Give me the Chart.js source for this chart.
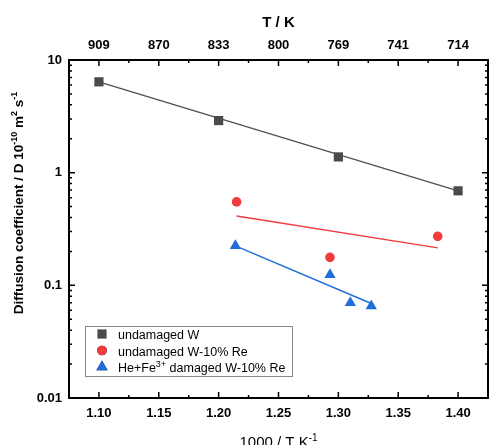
<!DOCTYPE html>
<html>
<head>
<meta charset="utf-8">
<script src="https://cdn.jsdelivr.net/npm/chart.js@4.4.0/dist/chart.umd.min.js"></script>
<style>
  html, body { margin: 0; padding: 0; background: #fff; }
</style>
</head>
<body>
<canvas id="diffChart" width="491" height="445"></canvas>
<script>
// axis ticks
const invT = [1.10, 1.15, 1.20, 1.25, 1.30, 1.35, 1.40];
const tempLabels = ['909', '870', '833', '800', '769', '741', '714'];
const yTicks = [0.01, 0.1, 1, 10];
const yTickLabels = ['0.01', '0.1', '1', '10'];

// undamaged W
const wX = [1.10, 1.20, 1.30, 1.40];
const wD = [6.4, 2.9, 1.38, 0.69];
const wFitX = [1.10, 1.40];
const wFitD = [6.4, 0.69];

// undamaged W-10% Re
const reX = [1.215, 1.293, 1.383];
const reD = [0.55, 0.177, 0.272];
const reFitX = [1.215, 1.383];
const reFitD = [0.413, 0.215];

// He+Fe3+ damaged W-10% Re
const dmgX = [1.214, 1.293, 1.310, 1.3275];
const dmgD = [0.224, 0.124, 0.070, 0.0656];
const dmgFitX = [1.214, 1.3275];
const dmgFitD = [0.224, 0.069];

const legendLabels = [
  [['undamaged W', false]],
  [['undamaged W-10% Re', false]],
  [['He+Fe', false], ['3+', true], [' damaged W-10% Re', false]]
];

const FONT = '"Liberation Sans", Arial, sans-serif';
const greyCol = '#4a4a4a';
const redCol = '#f03c3c';
const blueCol = '#1f6ed9';

const toXY = (xs, ys) => xs.map((v, i) => ({ x: v, y: ys[i] }));

// text with superscripts, parts = [[text, isSup], ...]
function drawRich(ctx, parts, x, y, size, weight, align) {
  const supSize = Math.round(size * 0.68);
  let w = 0;
  parts.forEach(([t, sup]) => {
    ctx.font = weight + ' ' + (sup ? supSize : size) + 'px ' + FONT;
    w += ctx.measureText(t).width;
  });
  let cx = align === 'center' ? x - w / 2 : x;
  ctx.textBaseline = 'alphabetic';
  ctx.textAlign = 'left';
  parts.forEach(([t, sup]) => {
    ctx.font = weight + ' ' + (sup ? supSize : size) + 'px ' + FONT;
    ctx.fillText(t, cx, sup ? y - size * 0.42 : y);
    cx += ctx.measureText(t).width;
  });
}

const frameTicks = {
  id: 'frameTicks',
  afterDraw(chart) {
    const { ctx, chartArea: a, scales } = chart;
    const x = scales.x, y = scales.y;
    ctx.save();
    ctx.strokeStyle = '#000';
    ctx.lineWidth = 1.5;
    ctx.beginPath();
    invT.forEach((v, i) => {
      const px = x.getPixelForValue(v);
      ctx.moveTo(px, a.bottom); ctx.lineTo(px, a.bottom - 6);
      ctx.moveTo(px, a.top); ctx.lineTo(px, a.top + 6);
      if (i < invT.length - 1) {
        const mx = x.getPixelForValue((v + invT[i + 1]) / 2);
        ctx.moveTo(mx, a.bottom); ctx.lineTo(mx, a.bottom - 3);
        ctx.moveTo(mx, a.top); ctx.lineTo(mx, a.top + 3);
      }
    });
    yTicks.forEach((d, i) => {
      const py = y.getPixelForValue(d);
      ctx.moveTo(a.left, py); ctx.lineTo(a.left + 6, py);
      ctx.moveTo(a.right, py); ctx.lineTo(a.right - 6, py);
      if (i < yTicks.length - 1) {
        for (let k = 2; k <= 9; k++) {
          const my = y.getPixelForValue(d * k);
          ctx.moveTo(a.left, my); ctx.lineTo(a.left + 3, my);
          ctx.moveTo(a.right, my); ctx.lineTo(a.right - 3, my);
        }
      }
    });
    ctx.stroke();
    ctx.lineWidth = 2;
    ctx.strokeRect(a.left, a.top, a.right - a.left, a.bottom - a.top);

    // axis titles
    ctx.fillStyle = '#000';
    const midX = (a.left + a.right) / 2;
    drawRich(ctx, [['T / K', false]], midX, 27, 15, 'bold', 'center');
    drawRich(ctx, [['1000 / T K', false], ['-1', true]], midX, 447, 15, 'normal', 'center');
    ctx.save();
    ctx.translate(23, (a.top + a.bottom) / 2 - 26);
    ctx.rotate(-Math.PI / 2);
    drawRich(ctx, [['Diffusion coefficient / D 10', false], ['-10', true], [' m', false], ['2', true], [' s', false], ['-1', true]], 0, 0, 13.5, 'bold', 'center');
    ctx.restore();

    // legend
    const lx = a.left + 16, ly = a.top + 266, lw = 207, lh = 50;
    ctx.fillStyle = '#fff';
    ctx.fillRect(lx, ly, lw, lh);
    ctx.strokeStyle = '#888';
    ctx.lineWidth = 1;
    ctx.strokeRect(lx + 0.5, ly + 0.5, lw, lh);
    const ds = chart.data.datasets;
    legendLabels.forEach((parts, i) => {
      const d = ds[i * 2];
      const cy = ly + 8 + i * 16.5;
      Chart.helpers.drawPoint(ctx, {
        pointStyle: d.pointStyle, radius: d.pointRadius, rotation: 0, borderWidth: 0
      }, lx + 17, cy);
      ctx.fillStyle = d.backgroundColor;
      ctx.fill();
      ctx.fillStyle = '#000';
      drawRich(ctx, parts, lx + 33, cy + 5, 12.5, 'normal', 'left');
    });
    ctx.restore();
  }
};

const ctxEl = document.getElementById('diffChart');
new Chart(ctxEl, {
  type: 'scatter',
  data: {
    datasets: [
      { label: 'undamaged W', data: toXY(wX, wD), pointStyle: 'rect', pointRadius: 6.5,
        backgroundColor: greyCol, borderColor: greyCol, borderWidth: 0 },
      { type: 'line', data: toXY(wFitX, wFitD), borderColor: '#505050', borderWidth: 1.4,
        pointRadius: 0, fill: false, order: 1 },
      { label: 'undamaged W-10% Re', data: toXY(reX, reD), pointStyle: 'circle', pointRadius: 4.8,
        backgroundColor: redCol, borderColor: redCol, borderWidth: 0 },
      { type: 'line', data: toXY(reFitX, reFitD), borderColor: redCol, borderWidth: 1.4,
        pointRadius: 0, fill: false, order: 1 },
      { label: 'He+Fe3+ damaged W-10% Re', data: toXY(dmgX, dmgD), pointStyle: 'triangle', pointRadius: 6.5,
        backgroundColor: blueCol, borderColor: blueCol, borderWidth: 0 },
      { type: 'line', data: toXY(dmgFitX, dmgFitD), borderColor: blueCol, borderWidth: 1.4,
        pointRadius: 0, fill: false, order: 1 }
    ]
  },
  options: {
    responsive: false,
    animation: false,
    devicePixelRatio: 1,
    layout: { autoPadding: false, padding: { right: 3 } },
    plugins: { legend: { display: false }, tooltip: { enabled: false } },
    scales: {
      x: {
        type: 'linear', position: 'bottom', min: 1.075, max: 1.425,
        grid: { display: false, drawTicks: false }, border: { display: false },
        afterBuildTicks: (s) => { s.ticks = invT.map(v => ({ value: v })); },
        afterFit: (s) => { s.height = 47; },
        ticks: {
          autoSkip: false, maxRotation: 0, padding: 8, color: '#000',
          font: { family: FONT, size: 13, weight: 'bold' },
          callback: (v, i) => invT[i].toFixed(2)
        }
      },
      x2: {
        type: 'linear', position: 'top', min: 1.075, max: 1.425,
        grid: { display: false, drawTicks: false }, border: { display: false },
        afterBuildTicks: (s) => { s.ticks = invT.map(v => ({ value: v })); },
        afterFit: (s) => { s.height = 60; },
        ticks: {
          autoSkip: false, maxRotation: 0, padding: 7, color: '#000',
          font: { family: FONT, size: 13, weight: 'bold' },
          callback: (v, i) => tempLabels[i]
        }
      },
      y: {
        type: 'logarithmic', position: 'left', min: 0.01, max: 10,
        grid: { display: false, drawTicks: false }, border: { display: false },
        afterBuildTicks: (s) => { s.ticks = yTicks.map(v => ({ value: v })); },
        afterFit: (s) => { s.width = 69; },
        ticks: {
          autoSkip: false, padding: 7, color: '#000',
          font: { family: FONT, size: 13, weight: 'bold' },
          callback: (v, i) => yTickLabels[i]
        }
      }
    }
  },
  plugins: [frameTicks]
});
</script>
</body>
</html>
